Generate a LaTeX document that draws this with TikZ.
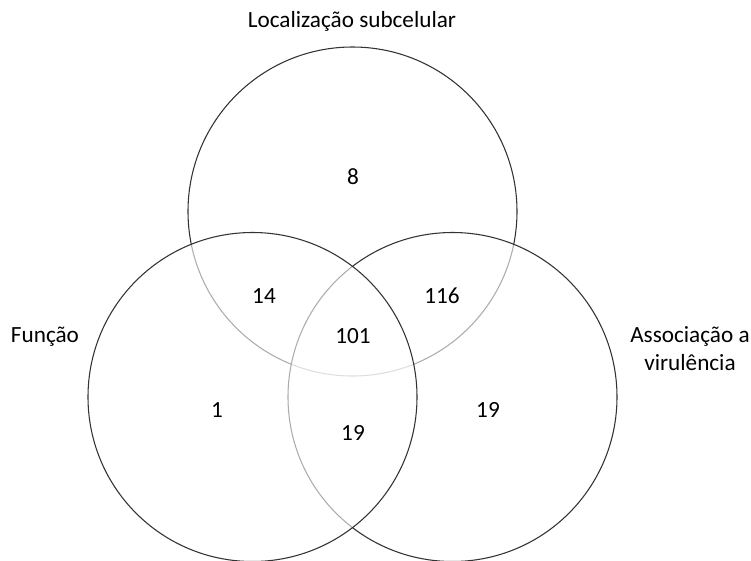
\documentclass[tikz,border=0pt]{standalone}
\usepackage{fontspec}
\setmainfont{Carlito}
\usepackage{tikz}
\usetikzlibrary{positioning}

\begin{document}
\begin{tikzpicture}[
    x=0.75pt, y=-0.75pt,
    every node/.style={font=\fontsize{17.4pt}{21pt}\selectfont, inner sep=0pt},
    venn/.style={circle, draw=black!80, line width=0.8pt, fill=white, fill opacity=0.6, minimum size=246.75pt},
  ]
\useasboundingbox (0,0) rectangle (751,561);

  % circles (top, right, left)
  \node[venn] (loc) at (352.5, 211.5) {};
  \node[venn] (vir) at (452.5, 397)   {};
  \node[venn] (fun) at (252.5, 397)   {};

  % set names
  \node (locname) at (352, 21)   {Localização subcelular};
  \node (funname) at (45, 337)   {Função};
  \node[align=center] (virname) at (690, 349) {Associação a\\virulência};

  % counts
  \node (n8)   at (353, 177) {8};
  \node (n14)  at (264, 296) {14};
  \node (n116) at (442, 296) {116};
  \node (n101) at (353, 336) {101};
  \node (n1)   at (217, 410) {1};
  \node (n19a) at (353, 433) {19};
  \node (n19b) at (488, 410) {19};

  \end{tikzpicture}
\end{document}
